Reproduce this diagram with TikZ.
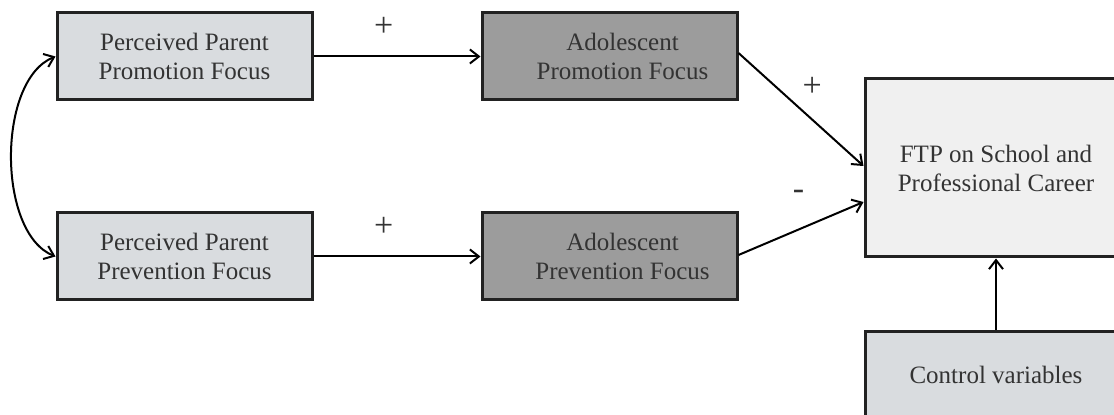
\documentclass[tikz,border=0pt]{standalone}
\usepackage{fontspec}
\setmainfont{Liberation Serif}
\usepackage{tikz}
\usetikzlibrary{arrows.meta,positioning}

\definecolor{parentgray}{HTML}{D9DCDF}
\definecolor{adogray}{HTML}{9C9C9C}
\definecolor{ftpgray}{HTML}{F0F0F0}
\definecolor{edgegray}{HTML}{222222}

\begin{document}
\begin{tikzpicture}[x=0.5pt,y=0.5pt,->,>={Straight Barb[length=4.5pt,width=7pt]},line width=1pt,
  box/.style={rectangle,draw=edgegray,line width=1.5pt,align=center,minimum width=127.5pt,
    minimum height=43.5pt,font=\fontsize{12.5}{14.5}\selectfont,text=black!80},
  parentbox/.style={box,fill=parentgray},
  adobox/.style={box,fill=adogray},
  sign/.style={draw=none,inner sep=1pt,font=\fontsize{17}{19}\selectfont,text=black!80}]
\useasboundingbox (0,0) rectangle (1114,-415);
\clip (0,0) rectangle (1114,-415);
\node[parentbox] (ppromo) at (184.5,-56.5) {Perceived Parent\\Promotion Focus};
\node[parentbox] (pprev) at (184.5,-256.5) {Perceived Parent\\Prevention Focus};
\node[adobox] (apromo) at (609.5,-56.5) {\hspace*{13pt}Adolescent\\\hspace*{13pt}Promotion Focus};
\node[adobox] (aprev) at (609.5,-256.5) {\hspace*{13pt}Adolescent\\\hspace*{13pt}Prevention Focus};
\node[box,fill=ftpgray,minimum width=131pt,minimum height=89pt] (ftp) at (996,-168)
  {FTP on School and\\Professional Career};
\node[box,fill=parentgray,minimum width=131pt] (ctrl) at (996,-375) {Control variables};
% paths
\draw (ppromo) -- node[sign,pos=0.42,above=8.3pt] {+} (apromo);
\draw (pprev) -- node[sign,pos=0.42,above=8.3pt] {+} (aprev);
\draw ([yshift=1.75pt]apromo.east) -- node[sign,pos=0.59,above=10.3pt] {+} ([yshift=1pt]ftp.west);
\draw ([yshift=0.75pt]aprev.east) -- node[sign,pos=0.48,above=13.75pt] {-} ([yshift=-17pt]ftp.west);
\draw (ctrl) -- (ftp);
\draw[<->] (ppromo.west) to[out=202,in=158,looseness=0.81] (pprev.west);
\end{tikzpicture}
\end{document}
